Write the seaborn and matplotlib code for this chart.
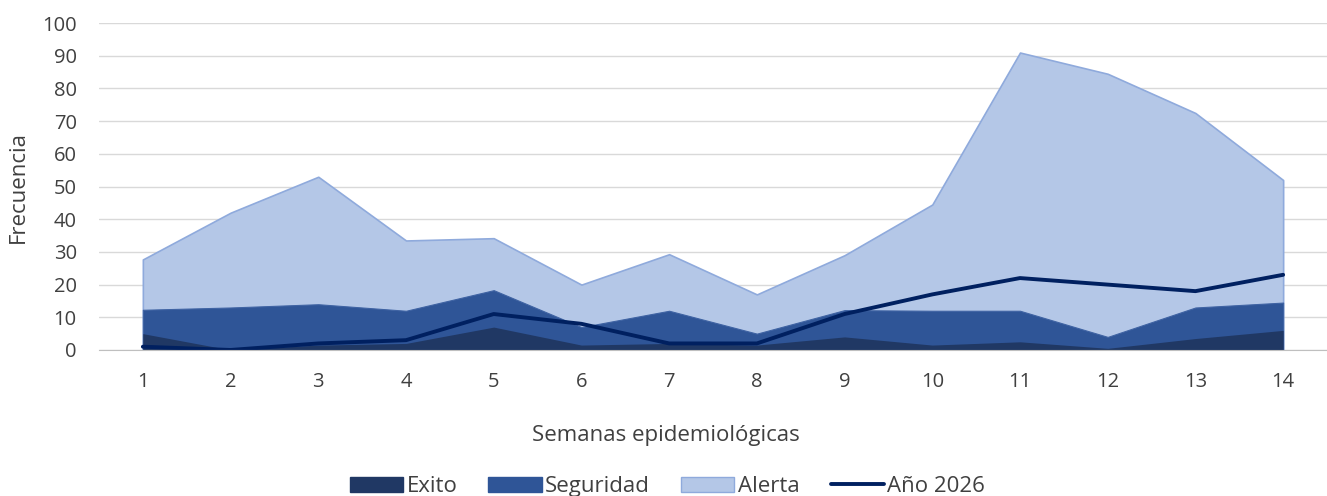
import seaborn as sns
import matplotlib.pyplot as plt
import pandas as pd
from matplotlib.patches import Patch
from matplotlib.lines import Line2D

semanas = list(range(1, 15))
exito = [5, 0, 1.5, 2, 7, 1.5, 2, 1.5, 4, 1.5, 2.5, 0.5, 3.5, 6]
seguridad = [12.3, 13, 14, 12, 18.3, 7, 12, 5, 12.2, 12, 12, 4, 13, 14.5]
alerta = [27.7, 42, 53, 33.5, 34.2, 20, 29.3, 17, 29, 44.5, 91, 84.5, 72.5, 52]
anio_2026 = [1, 0, 2, 3, 11, 8, 2, 2, 11, 17, 22, 20, 18, 23]

df = pd.DataFrame({"semana": semanas, "Año 2026": anio_2026})

sns.set_style("white")
plt.rcParams["font.family"] = ["Open Sans", "DejaVu Sans"]

fs_tick = 14.5
fs = 16
txt = "#404040"

fig = plt.figure(figsize=(13.27, 4.96), dpi=100)
ax = fig.add_axes([0.0746, 0.2944, 0.9254, 0.659])

c_exito = "#203864"
c_seg = "#2f5597"
c_alerta = "#b4c7e7"

ax.fill_between(semanas, alerta, color=c_alerta, edgecolor="#8faadc", linewidth=1.2, zorder=2)
ax.fill_between(semanas, seguridad, color=c_seg, edgecolor="#3f63a3", linewidth=0.8, zorder=3)
ax.fill_between(semanas, exito, color=c_exito, linewidth=0, zorder=4)
sns.lineplot(data=df, x="semana", y="Año 2026", color="#002060", linewidth=2.8,
             solid_capstyle="round", ax=ax, zorder=5)

ax.set_xlim(0.5, 14.5)
ax.set_ylim(0, 100)
ax.set_yticks(range(0, 101, 10))
ax.set_xticks(semanas)
ax.set_xticks([s + 0.5 for s in range(0, 15)], minor=True)
ax.tick_params(axis="x", which="major", length=0, pad=16, labelsize=fs_tick, labelcolor=txt)
ax.tick_params(axis="x", which="minor", length=5, color="#bfbfbf", width=1)
ax.tick_params(axis="y", length=0, pad=16, labelsize=fs_tick, labelcolor=txt)
ax.yaxis.grid(True, color="#d9d9d9", linewidth=1)
ax.set_axisbelow(True)
for s in ["top", "right", "left"]:
    ax.spines[s].set_visible(False)
ax.spines["bottom"].set_color("#bfbfbf")
ax.spines["bottom"].set_zorder(6)

ax.set_xlabel("Semanas epidemiológicas", fontsize=fs, color=txt)
ax.xaxis.set_label_coords(0.462, -0.228)
ax.set_ylabel("Frecuencia", fontsize=fs, color=txt)
ax.yaxis.set_label_coords(-0.057, 0.5)

handles = [
    Patch(facecolor=c_exito, edgecolor=c_exito),
    Patch(facecolor=c_seg, edgecolor=c_seg),
    Patch(facecolor=c_alerta, edgecolor="#8faadc"),
    Line2D([0], [0], color="#002060", linewidth=2.8),
]
fig.legend(handles, ["Exito", "Seguridad", "Alerta", "Año 2026"], loc="center",
           bbox_to_anchor=(0.503, 0.019), ncol=4, frameon=False, fontsize=fs,
           handlelength=2.4, handleheight=0.7, handletextpad=0.15, columnspacing=1.4,
           labelcolor=txt)

plt.savefig("out.png", dpi=100)
